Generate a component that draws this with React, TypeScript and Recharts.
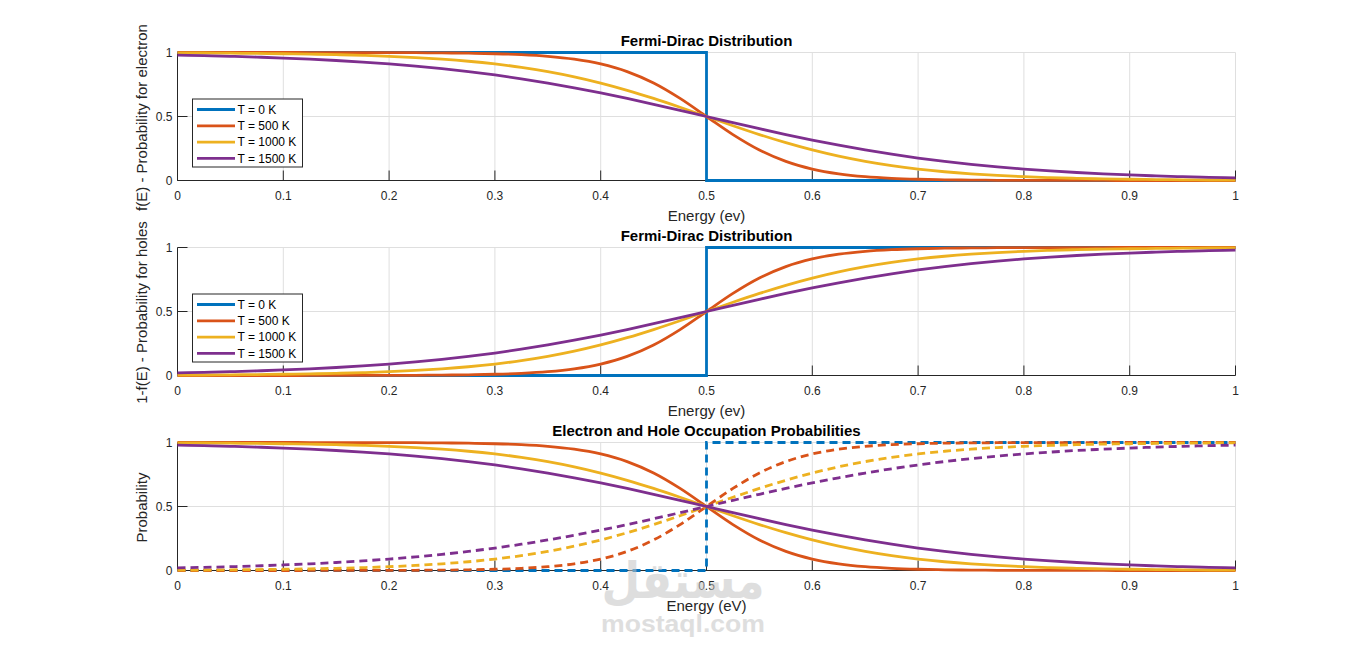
import React from 'react';
import { LineChart, Line, XAxis, YAxis, CartesianGrid } from 'recharts';

// ---------- data ----------
const energy = [0, 0.025, 0.05, 0.075, 0.1, 0.125, 0.15, 0.175, 0.2, 0.225, 0.25, 0.275, 0.3, 0.325, 0.35, 0.375, 0.4, 0.425, 0.45, 0.475, 0.5, 0.525, 0.55, 0.575, 0.6, 0.625, 0.65, 0.675, 0.7, 0.725, 0.75, 0.775, 0.8, 0.825, 0.85, 0.875, 0.9, 0.925, 0.95, 0.975, 1];

const electron500 = [1.0, 1.0, 1.0, 0.9999, 0.9999, 0.9998, 0.9997, 0.9995, 0.9991, 0.9983, 0.997, 0.9946, 0.9904, 0.9831, 0.9702, 0.9479, 0.9106, 0.8508, 0.7614, 0.6411, 0.5, 0.3589, 0.2386, 0.1492, 0.0894, 0.0521, 0.0298, 0.0169, 0.0096, 0.0054, 0.003, 0.0017, 0.0009, 0.0005, 0.0003, 0.0002, 0.0001, 0.0001, 0.0, 0.0, 0.0];
const electron1000 = [0.997, 0.996, 0.9946, 0.9928, 0.9904, 0.9873, 0.9831, 0.9775, 0.9702, 0.9605, 0.9479, 0.9316, 0.9106, 0.884, 0.8508, 0.8101, 0.7614, 0.7048, 0.6411, 0.572, 0.5, 0.428, 0.3589, 0.2952, 0.2386, 0.1899, 0.1492, 0.116, 0.0894, 0.0684, 0.0521, 0.0395, 0.0298, 0.0225, 0.0169, 0.0127, 0.0096, 0.0072, 0.0054, 0.004, 0.003];
const electron1500 = [0.9795, 0.9753, 0.9702, 0.964, 0.9567, 0.9479, 0.9375, 0.9251, 0.9106, 0.8936, 0.8737, 0.8508, 0.8245, 0.7948, 0.7614, 0.7245, 0.6843, 0.6411, 0.5955, 0.5482, 0.5, 0.4518, 0.4045, 0.3589, 0.3157, 0.2755, 0.2386, 0.2052, 0.1755, 0.1492, 0.1263, 0.1064, 0.0894, 0.0749, 0.0625, 0.0521, 0.0433, 0.036, 0.0298, 0.0247, 0.0205];

const hole500 = [0.0, 0.0, 0.0, 0.0001, 0.0001, 0.0002, 0.0003, 0.0005, 0.0009, 0.0017, 0.003, 0.0054, 0.0096, 0.0169, 0.0298, 0.0521, 0.0894, 0.1492, 0.2386, 0.3589, 0.5, 0.6411, 0.7614, 0.8508, 0.9106, 0.9479, 0.9702, 0.9831, 0.9904, 0.9946, 0.997, 0.9983, 0.9991, 0.9995, 0.9997, 0.9998, 0.9999, 0.9999, 1.0, 1.0, 1.0];
const hole1000 = [0.003, 0.004, 0.0054, 0.0072, 0.0096, 0.0127, 0.0169, 0.0225, 0.0298, 0.0395, 0.0521, 0.0684, 0.0894, 0.116, 0.1492, 0.1899, 0.2386, 0.2952, 0.3589, 0.428, 0.5, 0.572, 0.6411, 0.7048, 0.7614, 0.8101, 0.8508, 0.884, 0.9106, 0.9316, 0.9479, 0.9605, 0.9702, 0.9775, 0.9831, 0.9873, 0.9904, 0.9928, 0.9946, 0.996, 0.997];
const hole1500 = [0.0205, 0.0247, 0.0298, 0.036, 0.0433, 0.0521, 0.0625, 0.0749, 0.0894, 0.1064, 0.1263, 0.1492, 0.1755, 0.2052, 0.2386, 0.2755, 0.3157, 0.3589, 0.4045, 0.4518, 0.5, 0.5482, 0.5955, 0.6411, 0.6843, 0.7245, 0.7614, 0.7948, 0.8245, 0.8508, 0.8737, 0.8936, 0.9106, 0.9251, 0.9375, 0.9479, 0.9567, 0.964, 0.9702, 0.9753, 0.9795];

const stepEnergy = [0, 0.5, 0.5, 1];
const electron0 = [1, 1, 0, 0];
const hole0 = [0, 0, 1, 1];

const xTicks = [0, 0.1, 0.2, 0.3, 0.4, 0.5, 0.6, 0.7, 0.8, 0.9, 1];
const yTicks = [0, 0.5, 1];
const legendLabels = ['T = 0 K', 'T = 500 K', 'T = 1000 K', 'T = 1500 K'];
const titles = ['Fermi-Dirac Distribution', 'Fermi-Dirac Distribution', 'Electron and Hole Occupation Probabilities'];
const xLabels = ['Energy (ev)', 'Energy (ev)', 'Energy (eV)'];
const yLabels = ['f(E) - Probability for electron', '1-f(E) - Probability for holes', 'Probability'];

// ---------- tables built for the library ----------
const rows = energy.map((E, i) => ({
  E,
  e500: electron500[i],
  e1000: electron1000[i],
  e1500: electron1500[i],
  h500: hole500[i],
  h1000: hole1000[i],
  h1500: hole1500[i],
}));
const stepElectron = stepEnergy.map((E, i) => ({ E, v: electron0[i] }));
const stepHole = stepEnergy.map((E, i) => ({ E, v: hole0[i] }));

// ---------- styling ----------
const FONT = '"Liberation Sans", Arial, Helvetica, sans-serif';
const AX = '#262626';
const GRID = '#dfdfdf';
const COLORS = ['#0072BD', '#D95319', '#EDB120', '#7E2F8E'];
const LW = 2.8;
const DASH = '8 5';
const W = 1366;
const H = 651;
const PLOT_TOPS = [52.5, 247.5, 442.5];
const PLOT_H = 128;
const PLOT_L = 177.5;
const PLOT_R = 1235.5;
const XAXIS_H = 20;
const YAXIS_W = 30;
const TICK_LEN = 10;

function BottomTick(props: any) {
  const { x, y, payload } = props;
  return (
    <g>
      <line x1={x} y1={y} x2={x} y2={y - TICK_LEN} stroke={AX} strokeWidth={1} />
      <text x={x} y={y + 19.5} textAnchor="middle" fontSize={12} fontFamily={FONT} fill={AX}>
        {String(payload.value)}
      </text>
    </g>
  );
}
function TopTick(props: any) {
  const { x, y } = props;
  return <line x1={x} y1={y} x2={x} y2={y + TICK_LEN} stroke={AX} strokeWidth={1} />;
}
function LeftTick(props: any) {
  const { x, y, payload } = props;
  return (
    <g>
      <line x1={x} y1={y} x2={x + TICK_LEN} y2={y} stroke={AX} strokeWidth={1} />
      <text x={x - 5} y={y + 4.3} textAnchor="end" fontSize={12} fontFamily={FONT} fill={AX}>
        {String(payload.value)}
      </text>
    </g>
  );
}
function RightTick(props: any) {
  const { x, y } = props;
  return <line x1={x} y1={y} x2={x - TICK_LEN} y2={y} stroke={AX} strokeWidth={1} />;
}

// visible = true: grid, box and ticks (drawn underneath); false: same scales, nothing drawn
function axes(visible: boolean) {
  const line = visible ? { stroke: AX } : false;
  const out = [
    <XAxis key="xb" xAxisId={0} dataKey="E" type="number" domain={[0, 1]} ticks={xTicks} interval={0}
      height={XAXIS_H} tickSize={0} tickMargin={0} tickLine={false} axisLine={line} tick={visible ? BottomTick : false} />,
    <XAxis key="xt" xAxisId="top" orientation="top" dataKey="E" type="number" domain={[0, 1]} ticks={xTicks} interval={0}
      height={0} tickSize={0} tickMargin={0} tickLine={false} axisLine={line} tick={visible ? TopTick : false} />,
    <YAxis key="yl" yAxisId={0} type="number" domain={[0, 1]} ticks={yTicks} interval={0}
      width={YAXIS_W} tickSize={0} tickMargin={0} tickLine={false} axisLine={line} tick={visible ? LeftTick : false} />,
    <YAxis key="yr" yAxisId="right" orientation="right" type="number" domain={[0, 1]} ticks={yTicks} interval={0}
      width={0} tickSize={0} tickMargin={0} tickLine={false} axisLine={line} tick={visible ? RightTick : false} />,
  ];
  if (visible) out.unshift(<CartesianGrid key="grid" stroke={GRID} strokeWidth={1} fill="none" />);
  return out;
}

function margins(top: number) {
  return { top, right: W - PLOT_R, bottom: H - top - PLOT_H - XAXIS_H, left: PLOT_L - YAXIS_W };
}

const common = { dot: false, activeDot: false, isAnimationActive: false, strokeWidth: LW } as const;

// Frame layer: grid + box + ticks. The invisible series only bind the four axes to data.
function Frame({ top }: { top: number }) {
  return (
    <LineChart width={W} height={H} data={rows} margin={margins(top)}>
      {axes(true)}
      <Line dataKey="e1000" xAxisId={0} yAxisId={0} stroke="none" strokeOpacity={0} dot={false} activeDot={false} isAnimationActive={false} />
      <Line dataKey="h1000" xAxisId="top" yAxisId="right" stroke="none" strokeOpacity={0} dot={false} activeDot={false} isAnimationActive={false} />
    </LineChart>
  );
}

function Chart1() {
  return (
    <LineChart width={W} height={H} data={rows} margin={margins(PLOT_TOPS[0])}>
      {axes(false)}
      <Line data={stepElectron} dataKey="v" type="linear" stroke={COLORS[0]} {...common} />
      <Line dataKey="e500" type="monotone" stroke={COLORS[1]} {...common} />
      <Line dataKey="e1000" type="monotone" stroke={COLORS[2]} {...common} />
      <Line dataKey="e1500" type="monotone" stroke={COLORS[3]} {...common} />
    </LineChart>
  );
}
function Chart2() {
  return (
    <LineChart width={W} height={H} data={rows} margin={margins(PLOT_TOPS[1])}>
      {axes(false)}
      <Line data={stepHole} dataKey="v" type="linear" stroke={COLORS[0]} {...common} />
      <Line dataKey="h500" type="monotone" stroke={COLORS[1]} {...common} />
      <Line dataKey="h1000" type="monotone" stroke={COLORS[2]} {...common} />
      <Line dataKey="h1500" type="monotone" stroke={COLORS[3]} {...common} />
    </LineChart>
  );
}
function Chart3() {
  return (
    <LineChart width={W} height={H} data={rows} margin={margins(PLOT_TOPS[2])}>
      {axes(false)}
      <Line data={stepHole} dataKey="v" type="linear" stroke={COLORS[0]} strokeDasharray={DASH} {...common} />
      <Line dataKey="e500" type="monotone" stroke={COLORS[1]} {...common} />
      <Line dataKey="h500" type="monotone" stroke={COLORS[1]} strokeDasharray={DASH} {...common} />
      <Line dataKey="e1000" type="monotone" stroke={COLORS[2]} {...common} />
      <Line dataKey="h1000" type="monotone" stroke={COLORS[2]} strokeDasharray={DASH} {...common} />
      <Line dataKey="e1500" type="monotone" stroke={COLORS[3]} {...common} />
      <Line dataKey="h1500" type="monotone" stroke={COLORS[3]} strokeDasharray={DASH} {...common} />
    </LineChart>
  );
}

function LegendBox({ top }: { top: number }) {
  const bx = 192;
  const by = top + 46;
  const rowY = [57, 73.3, 89.6, 105.9];
  return (
    <g>
      <rect x={bx + 0.5} y={by + 0.5} width={110} height={68} fill="#ffffff" stroke={AX} strokeWidth={1} />
      {legendLabels.map((lab, i) => (
        <g key={lab}>
          <line x1={197} x2={235} y1={top + rowY[i]} y2={top + rowY[i]} stroke={COLORS[i]} strokeWidth={LW} />
          <text x={237.5} y={top + rowY[i] + 4.2} fontSize={12} fontFamily={FONT} fill="#000">{lab}</text>
        </g>
      ))}
    </g>
  );
}

function Overlay() {
  const cx = (PLOT_L + PLOT_R) / 2;
  return (
    <svg width={W} height={H} style={{ position: 'absolute', left: 0, top: 0, pointerEvents: 'none' }}>
      {PLOT_TOPS.map((top, i) => (
        <g key={i}>
          <text x={cx} y={top - 7} textAnchor="middle" fontSize={15} fontWeight="bold" fontFamily={FONT} fill="#000">
            {titles[i]}
          </text>
          <text x={cx} y={top + PLOT_H + 40} textAnchor="middle" fontSize={15} fontFamily={FONT} fill={AX}>
            {xLabels[i]}
          </text>
          <text x={146.5} y={top + 65} textAnchor="middle" fontSize={15} fontFamily={FONT} fill={AX}
            transform={`rotate(-90 146.5 ${top + 65})`}>
            {yLabels[i]}
          </text>
        </g>
      ))}
      <LegendBox top={PLOT_TOPS[0]} />
      <LegendBox top={PLOT_TOPS[1]} />
      <g opacity={0.55}>
        <text x={683} y={598} textAnchor="middle" fontSize={50} fontWeight="bold" fontFamily='"DejaVu Sans", sans-serif'
          fill="#c4c4c4" textLength={163} lengthAdjust="spacingAndGlyphs">مستقل</text>
        <text x={683} y={632} textAnchor="middle" fontSize={24} fontWeight="bold" fontFamily={FONT}
          fill="#c4c4c4" textLength={164} lengthAdjust="spacingAndGlyphs">mostaql.com</text>
      </g>
    </svg>
  );
}

const layer: React.CSSProperties = { position: 'absolute', left: 0, top: 0 };

export default function App() {
  return (
    <div style={{ position: 'absolute', left: 0, top: 0, width: W, height: H, background: '#ffffff', overflow: 'hidden' }}>
      {PLOT_TOPS.map((t) => (
        <div key={t} style={layer}><Frame top={t} /></div>
      ))}
      <div style={layer}><Chart1 /></div>
      <div style={layer}><Chart2 /></div>
      <div style={layer}><Chart3 /></div>
      <Overlay />
    </div>
  );
}
